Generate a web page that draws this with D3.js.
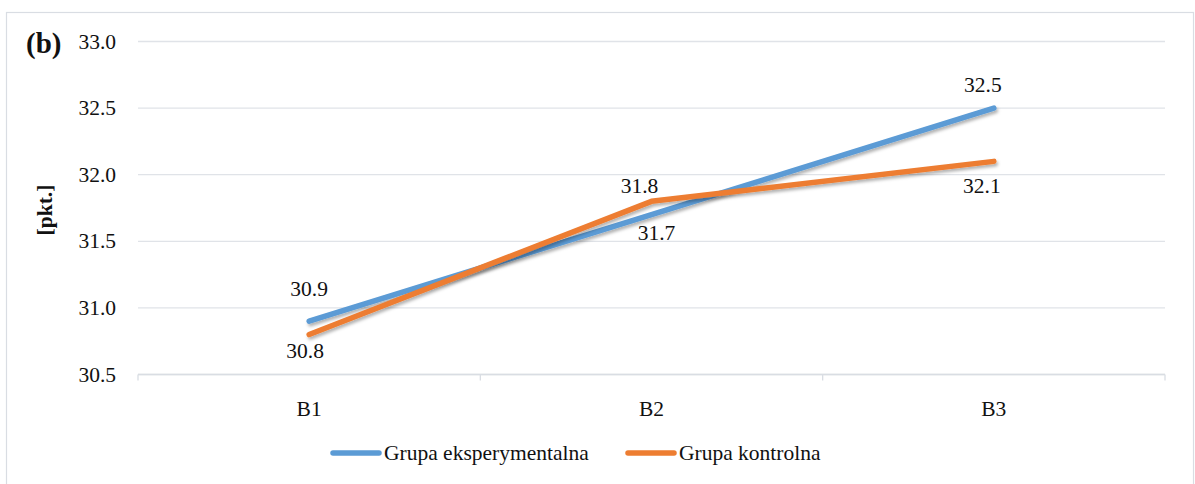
<!DOCTYPE html>
<html><head><meta charset="utf-8">
<script src="https://cdn.jsdelivr.net/npm/d3@7"></script>
<style>body{margin:0;background:#fff;}</style>
</head><body>
<svg id="c" width="1195" height="484"></svg>
<script>
const categories = ["B1","B2","B3"];
const seriesNames = ["Grupa eksperymentalna","Grupa kontrolna"];
const expValues = [30.9, 31.7, 32.5];
const ctrlValues = [30.8, 31.8, 32.1];
const yTicks = [30.5, 31.0, 31.5, 32.0, 32.5, 33.0];
const colors = ["#5b9bd5", "#ed7d31"];
// label offsets (dx, dy) in pixels, per series per point
const labelOffsets = [[[0,-32],[5,18],[-11,-23]],[[-4,16],[-12,-15],[-12,25]]];

const FONT = "'Liberation Serif', Tinos, 'Times New Roman', 'DejaVu Serif', serif";
const FS = 21.5;
const svg = d3.select("#c").attr("font-family", FONT);
const defs = svg.append("defs");
const f = defs.append("filter").attr("id","sh").attr("x","-10%").attr("y","-50%").attr("width","120%").attr("height","200%");
f.append("feDropShadow").attr("dx",1.5).attr("dy",2.5).attr("stdDeviation",1.8).attr("flood-color","#000").attr("flood-opacity",0.3);

svg.append("rect").attr("x",6.5).attr("y",12.5).attr("width",1187).attr("height",500)
  .attr("fill","none").attr("stroke","#d9dde3").attr("stroke-width",1.2);

const L=138,R=1165,T=41.5,B=374.5;
const x = d3.scaleBand().domain(categories).range([L,R]);
const y = d3.scaleLinear().domain([30.5,33.0]).range([B,T]);

const g = svg.append("g");
yTicks.forEach(t=>{
  g.append("line").attr("x1",L).attr("x2",R).attr("y1",y(t)).attr("y2",y(t))
   .attr("stroke","#e0e3e8").attr("stroke-width",1.3);
  g.append("text").attr("x",116).attr("y",y(t)).attr("dy","0.33em").attr("text-anchor","end")
   .attr("font-size",FS).attr("fill","#111").text(t.toFixed(1));
});
g.append("line").attr("x1",L).attr("x2",R).attr("y1",B).attr("y2",B).attr("stroke","#d9dde3").attr("stroke-width",1.3);
const bounds = categories.map(c=>x(c)).concat([R]);
bounds.forEach(b=>g.append("line").attr("x1",b).attr("x2",b).attr("y1",B).attr("y2",B+6).attr("stroke","#d9dde3").attr("stroke-width",1.3));
categories.forEach(c=>{
  g.append("text").attr("x",x(c)+x.bandwidth()/2).attr("y",409).attr("dy","0.33em").attr("text-anchor","middle")
   .attr("font-size",FS).attr("fill","#111").text(c);
});

const xc = c=>x(c)+x.bandwidth()/2;
const line = d3.line().x((d,i)=>xc(categories[i])).y(d=>y(d));
[expValues, ctrlValues].forEach((vals,si)=>{
  svg.append("path").datum(vals).attr("d",line).attr("fill","none").attr("stroke",colors[si])
   .attr("stroke-width",5.5).attr("stroke-linecap","round").attr("stroke-linejoin","round").attr("filter","url(#sh)");
});
[expValues, ctrlValues].forEach((vals,si)=>{
  vals.forEach((v,i)=>{
    const [dx,dy] = labelOffsets[si][i];
    svg.append("text").attr("x",xc(categories[i])+dx).attr("y",y(v)+dy)
     .attr("dy","0.33em").attr("text-anchor","middle").attr("font-size",FS).attr("fill","#111").text(v.toFixed(1));
  });
});

svg.append("text").attr("x",26).attr("y",43).attr("dy","0.33em").attr("font-size",29).attr("font-weight","bold").attr("fill","#111").text("(b)");
svg.append("text").attr("transform","translate(52,210) rotate(-90)").attr("text-anchor","middle")
  .attr("font-size",FS).attr("font-weight","bold").attr("fill","#111").text("[pkt.]");

const legX=[330,625];
seriesNames.forEach((n,i)=>{
  svg.append("line").attr("x1",legX[i]+3).attr("x2",legX[i]+49).attr("y1",453).attr("y2",453)
    .attr("stroke",colors[i]).attr("stroke-width",5.5).attr("stroke-linecap","round");
  svg.append("text").attr("x",legX[i]+54).attr("y",453).attr("dy","0.33em").attr("font-size",FS).attr("fill","#111").text(n);
});
</script>
</body></html>
